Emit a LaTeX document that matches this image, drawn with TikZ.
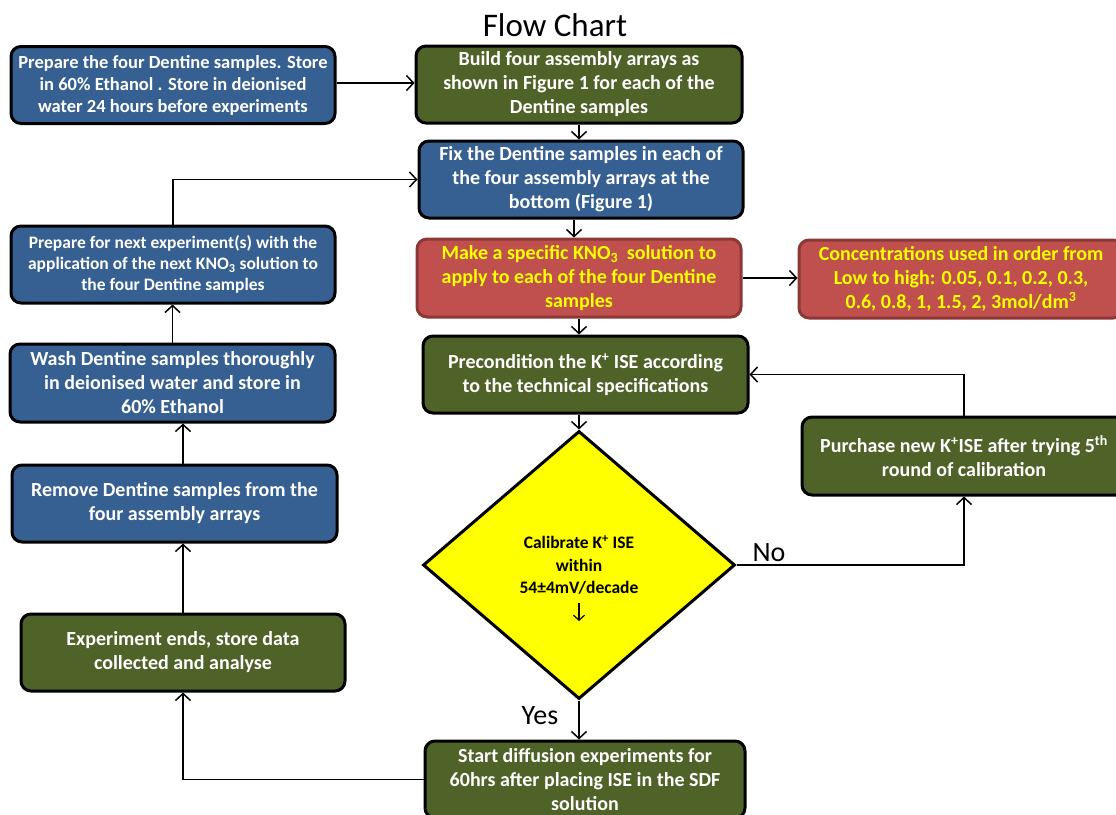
\documentclass[tikz,border=0pt]{standalone}
\usepackage{fontspec}
\setmainfont{Carlito}
\usetikzlibrary{shapes.geometric,arrows.meta}
\definecolor{cBlue}{HTML}{376092}
\definecolor{cGreen}{HTML}{4F6228}
\definecolor{cRed}{HTML}{C0504D}
\definecolor{cRedLine}{HTML}{8C3836}
\definecolor{cYellow}{HTML}{FFFF00}
\begin{document}
\begin{tikzpicture}[x=1pt,y=-1pt,
  base/.style={rectangle, rounded corners=10pt, line width=3pt, minimum width=324pt,
    minimum height=77pt, inner sep=0pt, align=center,
    font=\bfseries\fontsize{20}{24}\selectfont},
  bluenode/.style={base, draw=black, fill=cBlue, text=white},
  greennode/.style={base, draw=black, fill=cGreen, text=white},
  rednode/.style={base, draw=cRedLine, fill=cRed, text=cYellow},
  decision/.style={diamond, draw=black, line width=3pt, fill=cYellow, text=black,
    minimum width=312pt, minimum height=268pt, inner sep=0pt, align=center,
    font=\bfseries\fontsize{17.5}{22.5}\selectfont},
  conn/.style={line width=1.5pt},
  arr/.style={line width=1.5pt, -{Straight Barb[length=7pt,width=15pt,line width=1.5pt]}},
  lbl/.style={font=\fontsize{28}{32}\selectfont, inner sep=0pt}
]
\useasboundingbox (0,0) rectangle (1116,814);
\fill[white] (0,0) rectangle (1116,814);
\clip (0,0) rectangle (1116,814);

% title
\node[font=\fontsize{33}{38}\selectfont, inner sep=0pt] (title) at (555,25) {Flow Chart};

% nodes
\node[bluenode, font=\bfseries\fontsize{18.5}{22}\selectfont] (A) at (173,85)
  {Prepare the four Dentine samples. Store\\in 60\% Ethanol . Store in deionised\\water 24 hours before experiments};
\node[greennode, minimum width=326pt] (B) at (579,84.5)
  {Build four assembly arrays as\\shown in Figure 1 for each of the\\Dentine samples};
\node[bluenode] (C) at (581,179.5)
  {Fix the Dentine samples in each of\\the four assembly arrays at the\\bottom (Figure 1)};
\node[rednode, minimum height=78pt] (D) at (579,278)
  {Make a specific KNO\textsubscript{3}\hspace{4pt} solution to\\apply to each of the four Dentine\\samples};
\node[rednode, minimum height=78pt] (E) at (961,279)
  {Concentrations used in order from\\Low to high: 0.05, 0.1, 0.2, 0.3,\\0.6, 0.8, 1, 1.5, 2, 3mol/dm\textsuperscript{3}};
\node[greennode, minimum width=325pt] (F) at (585.5,374.5)
  {Precondition the K\textsuperscript{+} ISE according\\to the technical specifications};
\node[greennode, minimum height=78pt] (G) at (964,456)
  {Purchase new K\textsuperscript{+}ISE after trying 5\textsuperscript{th}\\round of calibration};
\node[decision] (dia) at (579,565)
  {Calibrate K\textsuperscript{+} ISE\\within\\54±4mV/decade};
\node[greennode, minimum width=320pt] (H) at (585,779.5)
  {Start diffusion experiments for\\60hrs after placing ISE in the SDF\\solution};
\node[bluenode, font=\bfseries\fontsize{17.5}{21}\selectfont] (I) at (173,264.5)
  {Prepare for next experiment(s) with the\\application of the next KNO\textsubscript{3} solution to\\the four Dentine samples};
\node[bluenode, minimum width=325pt, minimum height=78pt] (J) at (172.5,383)
  {Wash Dentine samples thoroughly\\in deionised water and store in\\60\% Ethanol};
\node[bluenode, minimum width=325pt] (K) at (174.5,503.5)
  {Remove Dentine samples from the\\four assembly arrays};
\node[greennode] (L) at (183,652.5)
  {Experiment ends, store data\\collected and analyse};

% small arrow inside the decision
\coordinate (s1) at (579,603);
\coordinate (s2) at (579,621);
\draw[line width=1.2pt, -{Straight Barb[length=5pt,width=11pt,line width=1.2pt]}] (s1) -- (s2);

% connectors
\draw[arr] (A.east |- 0,83) -- (B.west |- 0,83);
\draw[arr] (B.south) -- (B.south |- C.north);
\draw[arr] ([xshift=-7pt]C.south) -- ([xshift=-7pt]C.south |- D.north);
\draw[arr] (D.east) -- (D.east -| E.west);
\draw[arr] (D.south) -- (D.south |- F.north);
\draw[arr] (F.south -| dia.north) -- (dia.north);
\draw[arr] (dia.south) -- (dia.south |- H.north);
\draw[arr] (dia.east) -| (G.south);
\draw[arr] (G.north) |- (F.east);
\draw[arr] (H.west) -| (L.south);
\draw[arr] (L.north) -- (L.north |- K.south);
\draw[arr] (L.north |- K.north) -- (L.north |- J.south);
\draw[arr] (J.north) -- (J.north |- I.south);
\draw[arr] (I.north) |- (C.west);

% labels
\node[lbl] (no) at (769,553) {No};
\node[lbl] (yes) at (540,716) {Yes};
\end{tikzpicture}
\end{document}
